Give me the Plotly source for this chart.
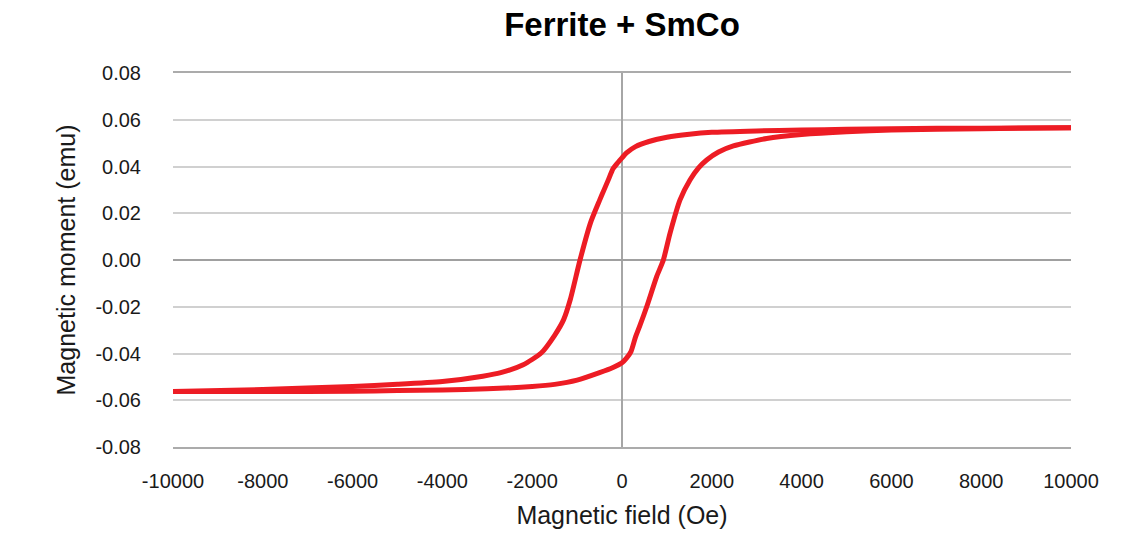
import plotly.graph_objects as go

# Descending-field branch (upper branch), Oe / emu
field_down = [10000, 8000, 6000, 5000, 4000, 3000, 2000, 1500, 1000, 600, 300, 100, 0,
              -100, -200, -300, -400, -500, -700, -935, -1150, -1300, -1500, -1800,
              -2200, -2700, -3100, -4000, -5000, -6000, -8000, -10000]
moment_down = [0.0566, 0.0564, 0.0562, 0.0559, 0.0556, 0.0552, 0.0546, 0.0538, 0.0525,
               0.0507, 0.0485, 0.0458, 0.0437, 0.0415, 0.0390, 0.0345, 0.0300, 0.0255,
               0.0160, 0.0, -0.0168, -0.0255, -0.0322, -0.0398, -0.0448, -0.0482,
               -0.0497, -0.0520, -0.0532, -0.0541, -0.0554, -0.0563]

# Ascending-field branch (lower branch)
field_up = [-10000, -8000, -6000, -5000, -4000, -3000, -2000, -1500, -1000, -500, -200,
            0, 100, 200, 300, 400, 550, 772, 921, 1069, 1292, 1514, 1700, 1886, 2150,
            2480, 3222, 4000, 5000, 6000, 8000, 10000]
moment_up = [-0.0563, -0.0563, -0.0562, -0.0558, -0.0556, -0.0551, -0.0541, -0.0532,
             -0.0514, -0.0482, -0.0460, -0.0440, -0.0420, -0.0392, -0.0330, -0.0280,
             -0.0200, -0.0071, 0.0, 0.0114, 0.0257, 0.0342, 0.0393, 0.0428, 0.0462,
             0.0488, 0.0520, 0.0537, 0.0549, 0.0556, 0.0562, 0.0566]

x_tickvals = [-10000, -8000, -6000, -4000, -2000, 0, 2000, 4000, 6000, 8000, 10000]
x_ticktext = ["-10000", "-8000", "-6000", "-4000", "-2000", "0", "2000", "4000", "6000", "8000", "10000"]
y_tickvals = [-0.08, -0.06, -0.04, -0.02, 0.0, 0.02, 0.04, 0.06, 0.08]
y_ticktext = ["-0.08", "-0.06", "-0.04", "-0.02", "0.00", "0.02", "0.04", "0.06", "0.08"]

RED = "#ED1C24"
FONT = "Liberation Sans, Arial, sans-serif"

fig = go.Figure()
fig.add_trace(go.Scatter(x=field_down, y=moment_down, mode="lines",
                         line=dict(color=RED, width=5, shape="spline", smoothing=0.6),
                         showlegend=False))
fig.add_trace(go.Scatter(x=field_up, y=moment_up, mode="lines",
                         line=dict(color=RED, width=5, shape="spline", smoothing=0.6),
                         showlegend=False))

fig.update_layout(
    width=1135, height=544,
    margin=dict(l=173, r=64, t=73, b=97),
    plot_bgcolor="white", paper_bgcolor="white",
    title=dict(text="<b>Ferrite + SmCo</b>", x=0.548, xanchor="center",
               y=1 - 24 / 544, yanchor="middle", yref="container",
               font=dict(family=FONT, size=33, color="#000000")),
    font=dict(family=FONT, color="#1a1a1a"),
)
fig.update_xaxes(
    range=[-10000, 10000], tickvals=x_tickvals, ticktext=x_ticktext,
    showgrid=False, zeroline=True, zerolinecolor="#a6a6a6", zerolinewidth=2,
    showline=True, mirror=True, linecolor="#ababab", linewidth=1.5,
    ticks="", ticklabelstandoff=15,
    tickfont=dict(family=FONT, size=20, color="#1a1a1a"),
    title=dict(text="Magnetic field (Oe)", standoff=16,
               font=dict(family=FONT, size=25, color="#1a1a1a")),
)
fig.update_yaxes(
    range=[-0.08, 0.08], tickvals=y_tickvals, ticktext=y_ticktext,
    showgrid=True, gridcolor="#d0d0d0", gridwidth=1.5,
    zeroline=True, zerolinecolor="#a0a0a0", zerolinewidth=1.5,
    ticks="", ticklabelstandoff=31,
    tickfont=dict(family=FONT, size=20, color="#1a1a1a"),
    title=dict(text="Magnetic moment (emu)", standoff=12,
               font=dict(family=FONT, size=25, color="#1a1a1a")),
)

fig.write_html("out.html")
